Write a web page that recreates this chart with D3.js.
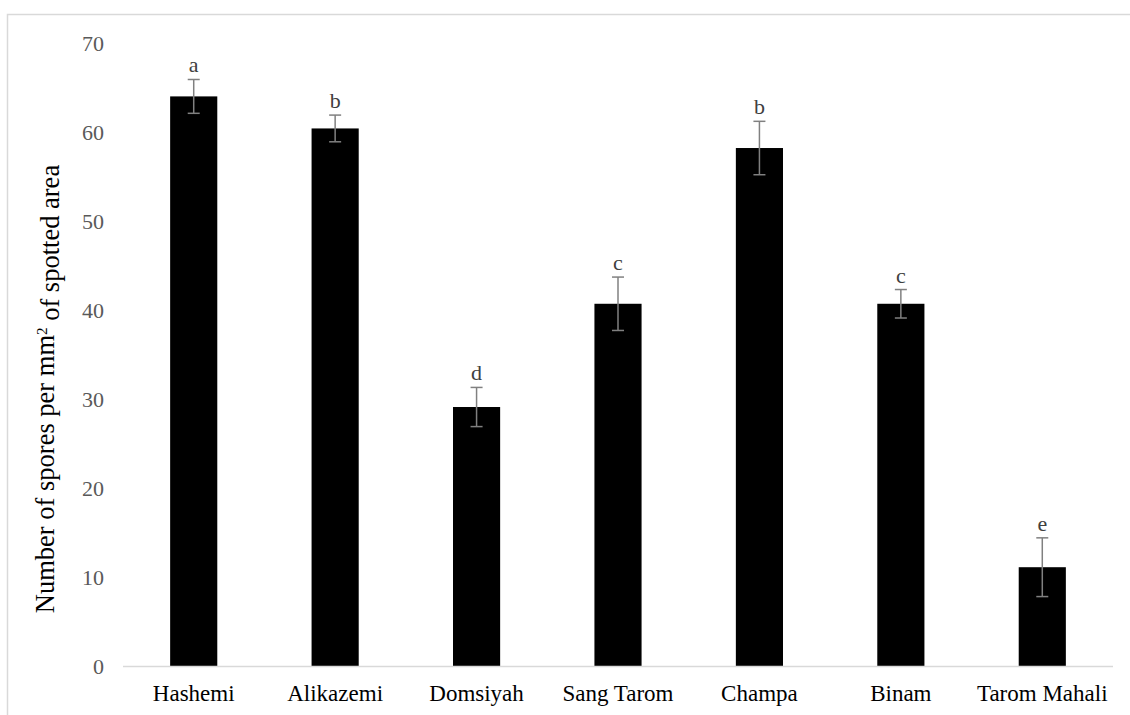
<!DOCTYPE html>
<html>
<head>
<meta charset="utf-8">
<script src="https://cdn.jsdelivr.net/npm/d3@7"></script>
<style>
  body { margin: 0; background: #fff; }
  text { font-family: "Liberation Serif", "Times New Roman", serif; }
</style>
</head>
<body>
<svg id="chart" width="1130" height="715"></svg>
<script>
// data
var cultivars = ["Hashemi", "Alikazemi", "Domsiyah", "Sang Tarom", "Champa", "Binam", "Tarom Mahali"];
var spores = [64.0, 60.4, 29.1, 40.7, 58.2, 40.7, 11.1];
var errors = [1.9, 1.5, 2.2, 3.0, 3.0, 1.6, 3.3];
var letters = ["a", "b", "d", "c", "b", "c", "e"];
var yTicks = [0, 10, 20, 30, 40, 50, 60, 70];

var svg = d3.select("#chart");

// outer frame
svg.append("rect")
  .attr("x", 7.5).attr("y", 14.5)
  .attr("width", 1140).attr("height", 720)
  .attr("fill", "none")
  .attr("stroke", "#d9d9d9")
  .attr("stroke-width", 1.5);

var plotLeft = 123, plotRight = 1113, plotTop = 43, plotBottom = 666;

var x = d3.scaleBand()
  .domain(cultivars)
  .range([plotLeft, plotRight])
  .paddingInner(2 / 3)
  .paddingOuter(1 / 3);

var y = d3.scaleLinear()
  .domain([0, 70])
  .range([plotBottom, plotTop]);

// y tick labels (no line)
svg.append("g").selectAll("text")
  .data(yTicks)
  .enter().append("text")
  .attr("x", 104)
  .attr("y", function(d) { return y(d); })
  .attr("dy", "0.35em")
  .attr("text-anchor", "end")
  .attr("fill", "#595959")
  .style("font-size", "22px")
  .text(function(d) { return d; });

// bars
svg.append("g").selectAll("rect")
  .data(spores)
  .enter().append("rect")
  .attr("x", function(d, i) { return x(cultivars[i]); })
  .attr("y", function(d) { return y(d); })
  .attr("width", x.bandwidth())
  .attr("height", function(d) { return y(0) - y(d); })
  .attr("fill", "#000");

// x axis line
svg.append("line")
  .attr("x1", plotLeft).attr("x2", plotRight)
  .attr("y1", plotBottom + 0.5).attr("y2", plotBottom + 0.5)
  .attr("stroke", "#d9d9d9")
  .attr("stroke-width", 1.5);

// error bars
var eb = svg.append("g").attr("stroke", "#808080").attr("stroke-width", 1.5);
spores.forEach(function(v, i) {
  var cx = x(cultivars[i]) + x.bandwidth() / 2;
  var hi = y(v + errors[i]), lo = y(v - errors[i]);
  eb.append("line").attr("x1", cx).attr("x2", cx).attr("y1", hi).attr("y2", lo);
  eb.append("line").attr("x1", cx - 6).attr("x2", cx + 6).attr("y1", hi).attr("y2", hi);
  eb.append("line").attr("x1", cx - 6).attr("x2", cx + 6).attr("y1", lo).attr("y2", lo);
});

// significance letters
svg.append("g").selectAll("text")
  .data(letters)
  .enter().append("text")
  .attr("x", function(d, i) { return x(cultivars[i]) + x.bandwidth() / 2; })
  .attr("y", function(d, i) { return y(spores[i] + errors[i]) - 7; })
  .attr("text-anchor", "middle")
  .attr("fill", "#404040")
  .style("font-size", "22px")
  .text(function(d) { return d; });

// category labels
svg.append("g").selectAll("text")
  .data(cultivars)
  .enter().append("text")
  .attr("x", function(d) { return x(d) + x.bandwidth() / 2; })
  .attr("y", 701)
  .attr("text-anchor", "middle")
  .attr("fill", "#000")
  .style("font-size", "23px")
  .text(function(d) { return d; });

// y axis title
var title = svg.append("text")
  .attr("transform", "translate(54,389) rotate(-90)")
  .attr("text-anchor", "middle")
  .attr("fill", "#000")
  .style("font-size", "26.5px");
title.append("tspan").text("Number of spores per mm");
title.append("tspan").attr("dy", "-0.45em").style("font-size", "15px").text("2");
title.append("tspan").attr("dy", "0.45em").text(" of spotted area");
</script>
</body>
</html>
